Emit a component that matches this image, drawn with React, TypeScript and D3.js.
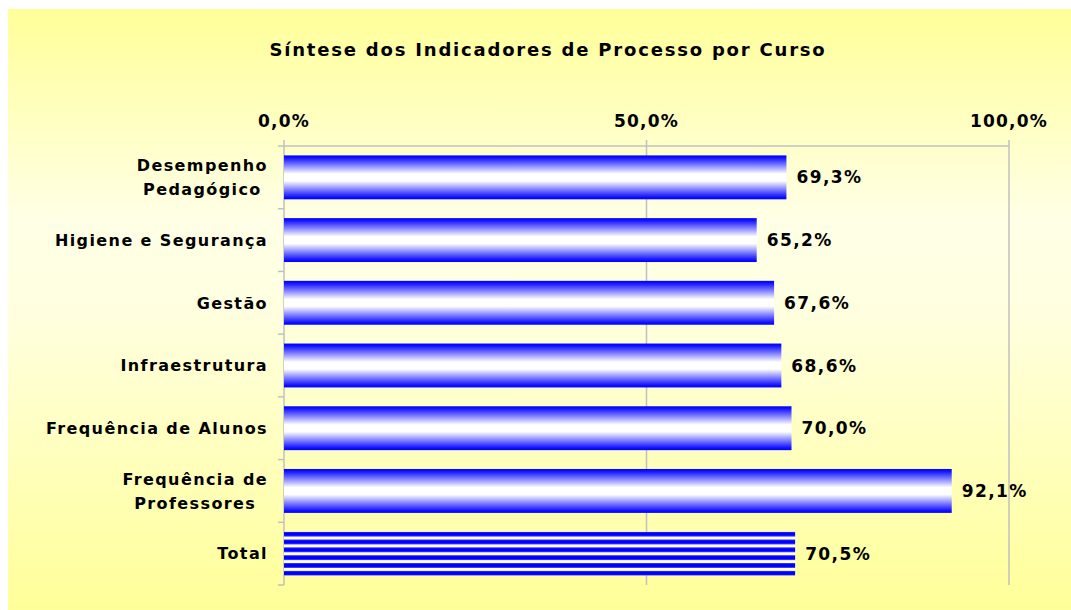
import React from "react";
import * as d3 from "d3";

const title = "Síntese dos Indicadores de Processo por Curso";
const categories: string[][] = [
  ["Desempenho", "Pedagógico"],
  ["Higiene e Segurança"],
  ["Gestão"],
  ["Infraestrutura"],
  ["Frequência de Alunos"],
  ["Frequência de", "Professores"],
  ["Total"],
];
const values = [69.3, 65.2, 67.6, 68.6, 70.0, 92.1, 70.5];
const tickValues = [0, 50, 100];

const W = 1071;
const H = 610;
const FONT = "'DejaVu Sans', Verdana, sans-serif";

const fmt = (v: number) => v.toFixed(1).replace(".", ",") + "%";

let ctx: CanvasRenderingContext2D | null = null;
function measure(text: string, size: number, ls: number) {
  if (!ctx) ctx = document.createElement("canvas").getContext("2d");
  if (!ctx) return text.length * size * 0.6;
  ctx.font = `bold ${size}px 'DejaVu Sans'`;
  return ctx.measureText(text).width + ls * text.length;
}

export default function App() {
  const left = 284;
  const right = 1009;
  const top = 146;
  const bottom = 585;
  const x = d3.scaleLinear().domain([0, 100]).range([left, right]);
  const y = d3
    .scaleBand<number>()
    .domain(d3.range(categories.length))
    .range([top, bottom])
    .paddingInner(0.3)
    .paddingOuter(0.15);
  const bw = y.bandwidth();
  const step = y.step();
  const boundaries = d3.range(categories.length + 1).map((i) => top + i * step);

  const catSize = 16;
  const catLs = 1.4;
  const labelRight = 268;

  const totalIdx = categories.length - 1;
  const totalY = y(totalIdx) as number;
  const period = bw / 5.6;

  return (
    <svg
      width={W}
      height={H}
      style={{ position: "absolute", left: 0, top: 0, background: "#fff" }}
    >
      <defs>
        <linearGradient id="bg" x1="0" y1="0" x2="0" y2="1">
          <stop offset="0" stopColor="#FFFF99" />
          <stop offset="0.35" stopColor="#FFFFE6" />
          <stop offset="0.5" stopColor="#FFFFE0" />
          <stop offset="1" stopColor="#FFFF99" />
        </linearGradient>
        <linearGradient id="bar" x1="0" y1="0" x2="0" y2="1">
          <stop offset="0" stopColor="#0000FF" />
          <stop offset="0.05" stopColor="#1010FF" />
          <stop offset="0.42" stopColor="#FFFFFF" />
          <stop offset="0.58" stopColor="#FFFFFF" />
          <stop offset="0.95" stopColor="#1010FF" />
          <stop offset="1" stopColor="#0000FF" />
        </linearGradient>
        <pattern
          id="stripes"
          patternUnits="userSpaceOnUse"
          x={0}
          y={totalY}
          width={10}
          height={period}
        >
          <rect x={0} y={0} width={10} height={period} fill="#FFFFFF" />
          <rect x={0} y={0} width={10} height={period * 0.6} fill="#0000FF" />
          <rect x={0} y={0} width={10} height={period * 0.08} fill="#3a3aff" />
          <rect x={0} y={period * 0.52} width={10} height={period * 0.08} fill="#3a3aff" />
        </pattern>
      </defs>
      <rect x={8} y={9} width={W - 8} height={H - 9} fill="url(#bg)" />

      <text
        x={548}
        y={56}
        textAnchor="middle"
        fontFamily={FONT}
        fontWeight="bold"
        fontSize={18}
        letterSpacing={1.8}
        fill="#000"
      >
        {title}
      </text>

      {/* grid lines */}
      {tickValues.map((t) => (
        <line
          key={"g" + t}
          x1={x(t)}
          x2={x(t)}
          y1={top - 6}
          y2={bottom}
          stroke="#C0C0C0"
          strokeWidth={1.5}
        />
      ))}
      <line x1={left} x2={right} y1={top} y2={top} stroke="#C0C0C0" strokeWidth={1.5} />
      {boundaries.map((b, i) => (
        <line key={"t" + i} x1={left - 6} x2={left} y1={b} y2={b} stroke="#C0C0C0" strokeWidth={1.5} />
      ))}

      {/* tick labels */}
      {tickValues.map((t) => (
        <text
          key={"l" + t}
          x={x(t)}
          y={127}
          textAnchor="middle"
          fontFamily={FONT}
          fontWeight="bold"
          fontSize={17}
          letterSpacing={1.2}
        >
          {fmt(t)}
        </text>
      ))}

      {/* bars */}
      {values.map((v, i) => (
        <rect
          key={"b" + i}
          x={x(0)}
          y={y(i)}
          width={x(v) - x(0)}
          height={bw}
          fill={i === totalIdx ? "url(#stripes)" : "url(#bar)"}
        />
      ))}

      {/* value labels */}
      {values.map((v, i) => (
        <text
          key={"v" + i}
          x={x(v) + 10}
          y={(y(i) as number) + bw / 2}
          dy="0.36em"
          fontFamily={FONT}
          fontWeight="bold"
          fontSize={17}
          letterSpacing={1.4}
        >
          {fmt(v)}
        </text>
      ))}

      {/* category labels */}
      {categories.map((lines, i) => {
        const cy = (y(i) as number) + bw / 2;
        const lh = 24;
        if (lines.length === 1) {
          return (
            <text
              key={"c" + i}
              x={labelRight}
              y={cy}
              dy="0.36em"
              textAnchor="end"
              fontFamily={FONT}
              fontWeight="bold"
              fontSize={catSize}
              letterSpacing={catLs}
            >
              {lines[0]}
            </text>
          );
        }
        const maxW = Math.max(...lines.map((l) => measure(l, catSize, catLs)));
        const cx = labelRight - maxW / 2;
        return (
          <text
            key={"c" + i}
            textAnchor="middle"
            fontFamily={FONT}
            fontWeight="bold"
            fontSize={catSize}
            letterSpacing={catLs}
          >
            {lines.map((l, j) => (
              <tspan
                key={j}
                x={cx}
                y={cy + (j - (lines.length - 1) / 2) * lh}
                dy="0.36em"
              >
                {l}
              </tspan>
            ))}
          </text>
        );
      })}
    </svg>
  );
}
